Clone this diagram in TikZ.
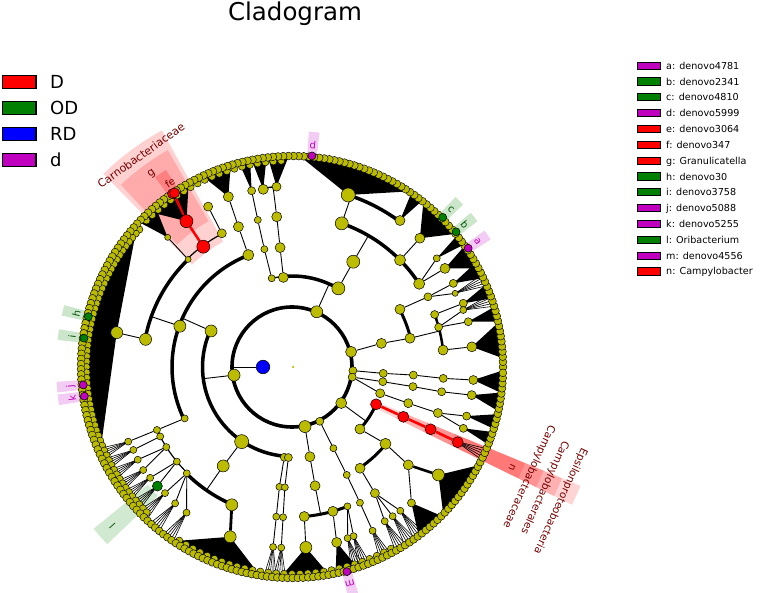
\documentclass[tikz,border=0pt]{standalone}
\usepackage{fontspec}
\setmainfont{DejaVu Sans}
\usetikzlibrary{backgrounds}
\definecolor{ycol}{RGB}{187,187,0}
\definecolor{cD}{RGB}{255,0,0}
\definecolor{cOD}{RGB}{0,128,0}
\definecolor{cRD}{RGB}{0,0,255}
\definecolor{cd}{RGB}{191,0,191}
\definecolor{tD}{RGB}{120,0,0}
\definecolor{tOD}{RGB}{0,85,0}
\definecolor{td}{RGB}{190,0,190}
\pgfdeclarelayer{hl}
\pgfdeclarelayer{bg}
\pgfsetlayers{hl,bg,main}
\newcommand\cgNd[5]{\node[tnode,minimum size={2*#4},fill=#5] (#1) at (#2:#3) {};}
\newcommand\cgArc[4]{\draw[line width=#4pt] (#2:#1) arc[start angle=#2,end angle=#3,radius=#1];}
\newcommand\cgFan[4]{\fill[black] (#2:#1) -- (#3:210) arc[start angle=#3,end angle=#4,radius=210] -- cycle;}
\newcommand\cgSec[5]{\fill[#5] (#1:#3) -- (#1:#4) arc[start angle=#1,end angle=#2,radius=#4] -- (#2:#3) arc[start angle=#2,end angle=#1,radius=#3] -- cycle;}
\newcommand\cgLL[6]{%
  \pgfmathsetmacro\cgla{#2-1.3}\pgfmathsetmacro\cglb{#2+1.3}\pgfmathsetmacro\cglr{#2-90}%
  \begin{pgfonlayer}{hl}\cgSec{\cgla}{\cglb}{214}{236}{#5,fill opacity=0.2}\end{pgfonlayer}%
  \node[rotate=\cglr,text=#6,font=\fontsize{10}{10}\selectfont,inner sep=0pt] (#1) at (#2:#3) {#4};}
\begin{document}
\begin{tikzpicture}[x=1pt,y=1pt,
  tnode/.style={circle,draw=black,line width=0.5pt,inner sep=0pt},
  edge/.style={line width=0.9pt},
  redge/.style={line width=2.6pt,cD},
  lf/.style={fill=ycol,draw=black,line width=0.45pt},
  lbl/.style={text=tD,font=\fontsize{11}{11}\selectfont,inner sep=0pt}]
\useasboundingbox (0,0) rectangle (763,592);
\node[font=\fontsize{24.5}{28}\selectfont,anchor=base] (title) at (295,571) {Cladogram};
% left legend
\foreach \i/\c/\t in {0/cD/D,1/cOD/OD,2/cRD/RD,3/cd/d}{
  \pgfmathsetmacro\yy{592-82-26*\i}
  \filldraw[fill=\c,draw=black,line width=1.3pt] (2.5,\yy-6.3) rectangle (36,\yy+6.3);
  \node[anchor=west,inner sep=0pt,font=\fontsize{18}{20}\selectfont] (lg\i) at (50,\yy) {\t};
}
% right legend
\foreach \i/\c/\t in {0/cd/{a: denovo4781},1/cOD/{b: denovo2341},2/cOD/{c: denovo4810},3/cd/{d: denovo5999},4/cD/{e: denovo3064},5/cD/{f: denovo347},6/cD/{g: Granulicatella},7/cOD/{h: denovo30},8/cOD/{i: denovo3758},9/cd/{j: denovo5088},10/cd/{k: denovo5255},11/cOD/{l: Oribacterium},12/cd/{m: denovo4556},13/cD/{n: Campylobacter}}{
  \pgfmathsetmacro\yy{592-65.7-15.83*\i}
  \filldraw[fill=\c,draw=black,line width=1pt] (637,\yy-3.6) rectangle (660,\yy+3.6);
  \node[anchor=base west,inner sep=0pt,font=\fontsize{9.6}{10}\selectfont] (rl\i) at (666,\yy-3.5) {\t};
}
\begin{scope}[shift={(292,225)}]
% highlight sectors
\begin{pgfonlayer}{hl}
\cgSec{118.8}{134.3}{143}{270}{cD,fill opacity=0.18}
\cgSec{119.8}{133.2}{168}{250}{cD,fill opacity=0.18}
\cgSec{122.6}{125.8}{214}{234}{cD,fill opacity=0.25}
\cgSec{-26.2}{-22.4}{86}{312}{cD,fill opacity=0.17}
\cgSec{-26.2}{-22.4}{116}{292}{cD,fill opacity=0.17}
\cgSec{-26.2}{-22.4}{146}{272}{cD,fill opacity=0.17}
\cgSec{-26.2}{-22.4}{176}{252}{cD,fill opacity=0.17}
\cgSec{219.2}{223.8}{186}{256}{cOD,fill opacity=0.18}
\end{pgfonlayer}
% leaf ring
\foreach \a in {93,95.2,...,136} {\filldraw[lf] (\a:206.5) circle[radius=3.6];}
\foreach \a in {237,239.2,...,300} {\filldraw[lf] (\a:207) circle[radius=3.6];}
\foreach \a in {138,139.5,...,226} {\filldraw[lf] (\a:205.5) circle[radius=3.6];}
\foreach \a in {0,1.4,...,358.7} {\filldraw[lf] (\a:211) circle[radius=3.9];}
% root and kingdom
\node[circle,fill=ycol,inner sep=0pt,minimum size=2.5pt] (root) at (1,0) {};
\cgNd{K}{180}{29}{6.8}{cRD}
% phyla
\cgNd{P188}{188}{58.5}{6}{ycol}
\cgNd{P66}{65.9}{60.5}{6}{ycol}
\cgNd{P14}{14.4}{61}{5.5}{ycol}
\cgNd{Pm3}{-3.4}{61}{4}{ycol}
\cgNd{Pm9}{-9.5}{61}{4}{ycol}
\cgNd{Pm36}{-36.2}{61}{5.5}{ycol}
\cgNd{Pm63}{-62.9}{61}{4}{ycol}
\cgNd{Pm78}{-77.7}{61}{6}{ycol}
% classes
\cgNd{C156}{156}{88.6}{6}{ycol}
\cgNd{C236}{236}{90}{7}{ycol}
\cgNd{C265}{265.1}{90.6}{4}{ycol}
\cgNd{C268}{267.7}{90.6}{4}{ycol}
\cgNd{C103}{102.9}{91}{3.5}{ycol}
\cgNd{C95}{95.5}{90}{5}{ycol}
\cgNd{C59}{59.5}{91.3}{6.5}{ycol}
\cgNd{C15}{14.8}{92.5}{5}{ycol}
\cgNd{Cm4}{-4}{91.5}{4}{ycol}
\cgNd{Cm9}{-9.2}{92}{4}{ycol}
\cgNd{Cm17}{-16.6}{92}{4.5}{ycol}
\cgNd{Cm42}{-42.4}{92}{5}{ycol}
\cgNd{Cm24}{-23.9}{92}{5.5}{cD}
\cgNd{Cm63}{-63}{91.2}{3.5}{ycol}
\cgNd{Cm79}{-78.7}{91.5}{5}{ycol}
% orders
\cgNd{O160}{160}{119.3}{6}{ycol}
\cgNd{O111}{111.3}{120.2}{5.5}{ycol}
\cgNd{O205}{205.6}{119}{3.5}{ycol}
\cgNd{O235}{235.2}{120.5}{6}{ycol}
\cgNd{O103}{103.2}{121}{3.5}{ycol}
\cgNd{O96}{95.7}{120}{5}{ycol}
\cgNd{O60}{59.8}{121.8}{6.5}{ycol}
\cgNd{O28}{28.1}{122.4}{5}{ycol}
\cgNd{O14}{13.7}{121.4}{5}{ycol}
\cgNd{Om4}{-3.8}{121.6}{4}{ycol}
\cgNd{Om9}{-9.2}{122.5}{4}{ycol}
\cgNd{Om17}{-17.3}{121.8}{4.5}{ycol}
\cgNd{Om24}{-24.1}{122}{5.5}{cD}
\cgNd{Om39}{-39.4}{121}{5.5}{ycol}
\cgNd{Om56}{-56.1}{122}{5}{ycol}
\cgNd{Om63}{-63.1}{121}{3.5}{ycol}
\cgNd{Om79}{-79}{121}{5}{ycol}
\cgNd{O265}{264}{120.5}{3.5}{ycol}
\cgNd{O268}{266.6}{120.5}{3.5}{ycol}
% families
\cgNd{F169}{169.3}{149}{6}{ycol}
\cgNd{F134}{134}{149.5}{3}{ycol}
\cgNd{F126}{126.4}{149.5}{6.5}{cD}
\cgNd{F118}{117.7}{151}{4.5}{ycol}
\cgNd{F111}{110.9}{150.2}{5}{ycol}
\cgNd{F103}{103.1}{151}{3.5}{ycol}
\cgNd{F96}{95.8}{151}{5}{ycol}
\cgNd{F71}{70.9}{152}{6.5}{ycol}
\cgNd{F45}{44.7}{152}{5.5}{ycol}
\cgNd{F33}{33.2}{152}{5.5}{ycol}
\cgNd{F27}{27.3}{153}{4}{ycol}
\cgNd{F20}{20.2}{152}{4}{ycol}
\cgNd{F15}{15.2}{152}{4}{ycol}
\cgNd{F6}{6.4}{152}{5}{ycol}
\cgNd{Fm4}{-4.3}{151.7}{4}{ycol}
\cgNd{Fm9}{-9.4}{151.7}{4}{ycol}
\cgNd{Fm17}{-17.5}{153}{4.5}{ycol}
\cgNd{Fm24}{-24.2}{152}{5.5}{cD}
\cgNd{Fm40}{-40.1}{152}{5}{ycol}
\cgNd{Fm57}{-56.7}{151}{4.5}{ycol}
\cgNd{Fm63}{-63.4}{151.8}{3.5}{ycol}
\cgNd{Fm85}{-85.3}{150}{5}{ycol}
\cgNd{Fm74}{-74.2}{150}{5}{ycol}
\cgNd{Fm68}{-68.3}{150}{3.5}{ycol}
\cgNd{F246}{246.4}{150.4}{6}{ycol}
\cgNd{F225}{225.3}{149.6}{3.5}{ycol}
\cgNd{F205}{205}{149}{3.5}{ycol}
\cgNd{F208}{207.8}{149}{3.5}{ycol}
\cgNd{F212}{212.5}{149}{3.5}{ycol}
\cgNd{F219}{219.4}{149}{3.5}{ycol}
\cgNd{F264}{264}{150.5}{3.5}{ycol}
\cgNd{F267}{266.6}{150.5}{3.5}{ycol}
% genera
\cgNd{G169}{168.9}{178.6}{6}{ycol}
\cgNd{G134}{133.8}{179.6}{3}{ycol}
\cgNd{G126}{125.9}{180}{6.5}{cD}
\cgNd{G118}{117.6}{181}{4.5}{ycol}
\cgNd{G110}{110.5}{181.8}{5}{ycol}
\cgNd{G103}{102.9}{180.8}{4}{ycol}
\cgNd{G99}{99.2}{180}{5}{ycol}
\cgNd{G95}{94.9}{181}{4.5}{ycol}
\cgNd{G72}{71.9}{181}{7}{ycol}
\cgNd{G54}{53.6}{182}{5}{ycol}
\cgNd{G45}{45.2}{181.5}{5}{ycol}
\cgNd{G37}{36.9}{181}{3.5}{ycol}
\cgNd{G33}{32.8}{182}{5}{ycol}
\cgNd{G27}{27.4}{181.7}{4}{ycol}
\cgNd{G24}{24.3}{179}{3}{ycol}
\cgNd{G20}{20.4}{182.8}{4}{ycol}
\cgNd{G18}{18.4}{180.5}{3.5}{ycol}
\cgNd{G14}{14.4}{182}{4}{ycol}
\cgNd{G6}{6.4}{181}{5}{ycol}
\cgNd{Gm4}{-4.1}{181.8}{4.5}{ycol}
\cgNd{Gm9}{-8.9}{181.9}{4.5}{ycol}
\cgNd{Gm16}{-15.7}{181.4}{4}{ycol}
\cgNd{Gm20}{-19.7}{182}{4}{ycol}
\cgNd{Gm24}{-24.4}{182}{5.5}{cD}
\cgNd{Gm36}{-36.4}{181.9}{6}{ycol}
\cgNd{Gm49}{-48.7}{181}{4}{ycol}
\cgNd{Gm53}{-53}{180}{3.5}{ycol}
\cgNd{Gm56}{-56}{180}{3.5}{ycol}
\cgNd{Gm59}{-59}{180}{3.5}{ycol}
\cgNd{Gm64}{-63.8}{182.5}{3.5}{ycol}
\cgNd{Gm76}{-75.7}{181}{5}{ycol}
\cgNd{Gm72}{-72}{180}{3.5}{ycol}
\cgNd{Gm70}{-70}{180}{3.5}{ycol}
\cgNd{Gm86}{-85.6}{181}{6}{ycol}
\cgNd{G250}{250}{180.7}{6}{ycol}
\cgNd{G264}{264}{181}{3.5}{ycol}
\cgNd{G267}{266.6}{181}{3.5}{ycol}
\cgNd{G204}{204.5}{180}{3.5}{ycol}
\cgNd{G208}{207.6}{179}{3.5}{ycol}
\cgNd{G211}{211}{180}{3.5}{ycol}
\cgNd{G215}{214.7}{181}{3.5}{ycol}
\cgNd{G218}{218}{180}{3.5}{ycol}
\cgNd{Gl}{221.5}{179.7}{5}{cOD}
\cgNd{G225}{224.8}{179}{3.5}{ycol}
\cgNd{G229}{229.4}{179.6}{3.5}{ycol}
\cgNd{G234}{234.1}{179.8}{3.5}{ycol}
% biomarker species
\cgNd{Sf}{124.6}{210.5}{5}{cD}
\cgNd{Se}{124}{210}{5}{cD}
\cgNd{Sa}{34}{212.5}{4}{cd}
\cgNd{Sb}{39.5}{212.6}{4}{cOD}
\cgNd{Sc}{44.8}{212.4}{4}{cOD}
\cgNd{Sd}{84.6}{212}{4}{cd}
\cgNd{Sh}{166.1}{209.8}{4}{cOD}
\cgNd{Si}{172.1}{210}{4}{cOD}
\cgNd{Sj}{184.9}{209.5}{4}{cd}
\cgNd{Sk}{188}{209.7}{4}{cd}
\cgNd{Sm}{-75}{211.9}{4}{cd}
% background: arcs, fans, edges
\begin{pgfonlayer}{bg}
\draw[line width=3.6pt] (0,0) circle[radius=60];
\cgArc{89.5}{156}{268}{3.5}
\cgArc{91}{59.5}{95.5}{3.5}
\cgArc{91}{95.5}{103}{1.2}
\cgArc{92}{-42.4}{-23.9}{3}
\cgArc{120}{111.3}{205.6}{3.5}
\cgArc{122}{13.7}{28.1}{3}
\cgArc{121.5}{-56.1}{-39.4}{3}
\cgArc{149.5}{134}{169.3}{3.5}
\cgArc{150.5}{117.7}{134}{1.2}
\cgArc{152}{33.5}{70.9}{3.5}
\cgArc{152}{6.4}{20.2}{2.5}
\cgArc{150}{225.3}{246.4}{3.5}
\cgArc{150}{-85.3}{-68.3}{3}
\cgArc{149}{205}{225.3}{1.2}
\cgArc{181}{53.6}{71.9}{3.5}
\cgArc{181}{94.9}{99.2}{1.5}
\foreach \r/\t/\a/\b in {178.6/168.9/137.5/204, 180/125.9/119.5/132.5, 179.6/133.8/130.5/136.5, 181.8/110.5/107/115, 180.8/102.9/101.5/104.5, 180/99.2/97/101, 181/94.9/91/96.5, 181/71.9/56.7/87.5, 182/53.6/52/55.5, 181.5/45.2/39.3/51.3, 181/36.9/35.5/38.5, 182/32.8/28/35, 181.7/27.4/25/29.5, 182.8/20.4/19/23, 182/14.4/12.5/16.5, 181/6.4/2.5/12, 181.8/-4.1/-7/-1, 181.9/-8.9/-12/-7, 181.4/-15.7/-17/-13, 182/-19.7/-21.5/-18, 181.9/-36.4/-44/-28, 181/-48.7/-53/-45, 181/-75.7/-78/-72, 181/-85.6/-93/-80, 180.7/250/236/261}{\cgFan{\r}{\t}{\a}{\b}}
\foreach \g in {204.5,207.6,211,214.7,218,221.5,224.8,229.4,234.1,-53,-56,-59,-72,-70,264,266.6,24.3,18.4,-63.8,-24.4}{
  \foreach \d in {-1.6,-0.8,0,0.8,1.6}{\draw[line width=0.6pt] (\g:180) -- ({\g+\d}:210);}}
\draw[edge] (K) -- (180:60);
\draw[edge] (P188) -- (187.5:89.5);
\draw[edge] (P66) -- (65.9:91);
\draw[edge] (P14) -- (C15);
\draw[edge] (Pm3) -- (Cm4);
\draw[edge] (Pm9) -- (Cm9);
\draw[edge] (Pm9) -- (Cm17);
\draw[edge] (Pm36) -- (-36.2:92);
\draw[edge] (Pm63) -- (Cm63) -- (Om63) -- (Fm63) -- (Gm64);
\draw[edge] (Pm78) -- (Cm79) -- (Om79) -- (-79:150);
\draw[edge] (C156) -- (156:120);
\draw[edge] (O160) -- (160.3:149.5);
\draw[edge] (C236) -- (O235) -- (235.2:150);
\draw[edge] (C265) -- (O265) -- (F264) -- (G264);
\draw[edge] (C268) -- (O268) -- (F267) -- (G267);
\draw[edge] (C103) -- (O103) -- (F103) -- (G103);
\draw[edge] (C95) -- (O96) -- (F96) -- (96:181);
\draw[edge] (C59) -- (O60) -- (59.8:152);
\draw[edge] (F71) -- (70.9:181);
\draw[edge] (F45) -- (G45);
\draw[edge] (F33) -- (G33);
\draw[edge] (F33) -- (G37);
\draw[edge] (O28) -- (F27) -- (G27);
\draw[edge] (F27) -- (G24);
\draw[edge] (C15) -- (O14) -- (13.7:152);
\draw[edge] (F20) -- (G20);
\draw[edge] (F15) -- (G14);
\draw[edge] (F15) -- (G18);
\draw[edge] (F6) -- (G6);
\draw[edge] (Cm4) -- (Om4) -- (Fm4) -- (Gm4);
\draw[edge] (Cm9) -- (Om9) -- (Fm9) -- (Gm9);
\draw[edge] (Cm17) -- (Om17) -- (Fm17) -- (Gm16);
\draw[edge] (Fm17) -- (Gm20);
\draw[redge] (Cm24) -- (Om24) -- (Fm24) -- (Gm24);
\draw[edge] (Cm42) -- (Om39) -- (Fm40);
\draw[line width=2.6pt] (Fm40) -- (Gm36);
\draw[edge] (Fm40) -- (Gm49);
\draw[edge] (Om56) -- (Fm57);
\draw[edge] (Fm57) -- (Gm53);
\draw[edge] (Fm57) -- (Gm56);
\draw[edge] (Fm57) -- (Gm59);
\draw[edge] (Fm85) -- (Gm86);
\draw[edge] (Fm74) -- (Gm76);
\draw[edge] (Fm68) -- (Gm72);
\draw[edge] (Fm68) -- (Gm70);
\draw[line width=2.8pt] (F246) -- (G250);
\draw[edge] (O205) -- (F205);
\draw[edge] (F205) -- (G204);
\draw[edge] (F208) -- (G208);
\draw[edge] (F212) -- (G211);
\draw[edge] (F212) -- (G215);
\draw[edge] (F219) -- (G218);
\draw[edge] (F219) -- (Gl);
\draw[edge] (F225) -- (G225);
\draw[edge] (F225) -- (G229);
\draw[edge] (F225) -- (G234);
\draw[edge] (O111) -- (F111) -- (G110);
\draw[edge] (F118) -- (G118);
\draw[edge] (F134) -- (G134);
\draw[edge] (F169) -- (G169);
\draw[redge] (F126) -- (G126);
\draw[cD,line width=1.3pt] (G126) -- (Se);
\draw[cD,line width=1.3pt] (G126) -- (Sf);
\end{pgfonlayer}
% labels
\node[lbl,rotate=35.5] (tCarno) at (125.5:260) {Carnobacteriaceae};
\node[lbl,rotate=35.9] (tg) at (125.9:239) {g};
\node[lbl,rotate=33.5,font=\fontsize{10}{10}\selectfont] (tfe) at (123.5:221) {fe};
\node[lbl,rotate=-114.5,font=\fontsize{10}{10}\selectfont] (tn) at (-24.5:242) {n};
\node[lbl,rotate=-114.5,font=\fontsize{10.5}{11}\selectfont] (tCfam) at (-24.8:261) {Campylobacteraceae};
\node[lbl,rotate=-114.5,font=\fontsize{10.5}{11}\selectfont] (tCord) at (-25.5:280) {Campylobacterales};
\node[lbl,rotate=-114.5,font=\fontsize{10.5}{11}\selectfont] (tCcls) at (-26.5:300) {Epsilonproteobacteria};
\node[rotate=131.5,text=tOD,font=\fontsize{10}{10}\selectfont,inner sep=0pt] (tl) at (221.5:240) {l};
\cgLL{la}{34}{224}{a}{cd}{td}
\cgLL{lb}{39.5}{224}{b}{cOD}{tOD}
\cgLL{lc}{44.8}{224}{c}{cOD}{tOD}
\cgLL{ld}{84.6}{223}{d}{cd}{td}
\cgLL{lh}{166.1}{222}{h}{cOD}{tOD}
\cgLL{li}{172.1}{222}{i}{cOD}{tOD}
\cgLL{lj}{184.9}{222}{j}{cd}{td}
\cgLL{lk}{188}{222}{k}{cd}{td}
\cgLL{lm}{-75}{224}{m}{cd}{td}
\end{scope}
\end{tikzpicture}
\end{document}
